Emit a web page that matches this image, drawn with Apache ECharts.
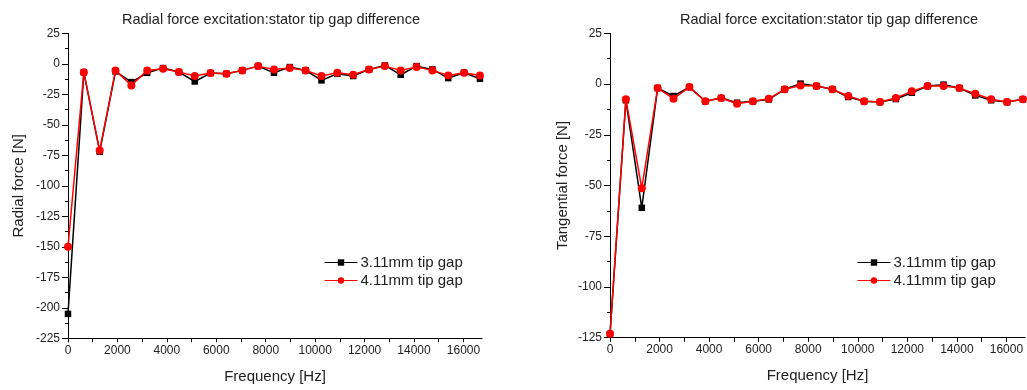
<!DOCTYPE html>
<html>
<head>
<meta charset="utf-8">
<script src="https://cdn.jsdelivr.net/npm/echarts@6/dist/echarts.min.js"></script>
<style>
html,body{margin:0;padding:0;background:#fff;}
#c{width:1027px;height:390px;}
</style>
</head>
<body>
<div id="c"></div>
<script>
// ---- data ----
var freqs = [0, 641, 1282, 1923, 2564, 3205, 3846, 4487, 5128, 5769, 6410, 7051, 7692, 8333, 8974, 9615, 10256, 10897, 11538, 12179, 12820, 13461, 14102, 14743, 15384, 16025, 16666];
var radial311 = [-205, -7, -72, -6.2, -15, -7.4, -3.5, -6.8, -14.5, -7.6, -8.2, -5.4, -1.9, -7.4, -2.7, -5.4, -13.6, -8.2, -10, -4.6, -1.3, -9, -1.9, -4.6, -11.7, -7.4, -12.3];
var radial411 = [-150, -7, -71, -5.4, -17.7, -5.4, -4.1, -6.8, -10, -7.6, -8.2, -5.4, -1.9, -4.6, -3.5, -5.4, -10, -7.4, -9, -4.6, -1.9, -5.4, -2.7, -5.4, -9.5, -7.4, -9.5];
var tang311 = [-123.5, -8, -61, -2, -5.9, -1.5, -8.5, -6.9, -9.2, -8.5, -7.6, -2.6, 0.2, -1, -2.6, -6.4, -8.5, -8.9, -7.4, -4.3, -1, -0.3, -2, -5.6, -8, -8.9, -7.5];
var tang411 = [-123, -7.5, -51.3, -2, -7.2, -1.5, -8.5, -6.9, -9.7, -8.5, -7.2, -2.6, -0.7, -1, -2.6, -5.9, -8.5, -8.9, -6.9, -3.6, -1, -1, -2, -4.8, -7.5, -8.9, -7.5];
var xLabelValues = [0, 2000, 4000, 6000, 8000, 10000, 12000, 14000, 16000];
var xTickValues = [0, 1000, 2000, 3000, 4000, 5000, 6000, 7000, 8000, 9000, 10000, 11000, 12000, 13000, 14000, 15000, 16000];
var seriesNames = ['3.11mm tip gap', '4.11mm tip gap'];
var titleText = 'Radial force excitation:stator tip gap difference';

function pairs(xs, ys) { return xs.map(function (x, i) { return [x, ys[i]]; }); }

var FONT = 'Liberation Sans, Arial, sans-serif';
var TXT = '#222';

function xAxis(gi) {
  return {
    type: 'value', gridIndex: gi, min: 0, max: 16750, interval: 1000,
    name: 'Frequency [Hz]', nameLocation: 'middle', nameGap: 31,
    nameTextStyle: { fontFamily: FONT, fontSize: 15, color: TXT },
    axisLine: { onZero: false, lineStyle: { color: '#000', width: 1 } },
    axisTick: { show: true, length: 4, customValues: xTickValues, lineStyle: { color: '#000' } },
    axisLabel: { customValues: xLabelValues, formatter: function (v) { return String(v); },
      fontFamily: FONT, fontSize: 12, color: TXT, margin: 6 },
    splitLine: { show: false }
  };
}
function yAxis(gi, min, name, gap) {
  return {
    type: 'value', gridIndex: gi, min: min, max: 25, interval: 25,
    name: name, nameLocation: 'middle', nameGap: gap, nameRotate: 90,
    nameTextStyle: { fontFamily: FONT, fontSize: 15, color: TXT },
    axisLine: { show: true, onZero: false, lineStyle: { color: '#000', width: 1 } },
    axisTick: { show: true, length: 6, lineStyle: { color: '#000' } },
    minorTick: { show: true, splitNumber: 2, length: 3, lineStyle: { color: '#000' } },
    axisLabel: { fontFamily: FONT, fontSize: 12, color: TXT, margin: 8 },
    splitLine: { show: false }
  };
}
function blackSeries(xi, data) {
  return { name: seriesNames[0], type: 'line', xAxisIndex: xi, yAxisIndex: xi, data: data,
    symbol: 'rect', symbolSize: 6.5, color: '#000', lineStyle: { color: '#000', width: 1.5 },
    itemStyle: { color: '#000' }, z: 2, animation: false };
}
function redSeries(xi, data) {
  return { name: seriesNames[1], type: 'line', xAxisIndex: xi, yAxisIndex: xi, data: data,
    symbol: 'circle', symbolSize: 8, color: '#ff0000', lineStyle: { color: '#ff0000', width: 1.5 },
    itemStyle: { color: '#ff0000' }, z: 3, animation: false };
}
function legend(left) {
  return { orient: 'vertical', left: left, top: 250, itemWidth: 33, itemHeight: 8, itemGap: 3,
    lineStyle: { width: 1 },
    data: seriesNames, textStyle: { fontFamily: FONT, fontSize: 15, color: TXT, padding: [0, 0, 0, -2] } };
}

var chart = echarts.init(document.getElementById('c'), null, { renderer: 'canvas' });
chart.setOption({
  backgroundColor: '#fff',
  animation: false,
  title: [
    { text: titleText, left: 266, top: 7, textAlign: 'center', textStyle: { fontFamily: FONT, fontSize: 14.5, fontWeight: 'normal', color: TXT } },
    { text: titleText, left: 824, top: 7, textAlign: 'center', textStyle: { fontFamily: FONT, fontSize: 14.5, fontWeight: 'normal', color: TXT } }
  ],
  legend: [legend(319), legend(852)],
  grid: [
    { left: 68, width: 414, top: 33.3, height: 305 },
    { left: 610, width: 415, top: 33.3, height: 304.4 }
  ],
  xAxis: [xAxis(0), xAxis(1)],
  yAxis: [yAxis(0, -225, 'Radial force [N]', 42), yAxis(1, -125, 'Tangential force [N]', 40)],
  series: [
    blackSeries(0, pairs(freqs, radial311)),
    redSeries(0, pairs(freqs, radial411)),
    blackSeries(1, pairs(freqs, tang311)),
    redSeries(1, pairs(freqs, tang411))
  ]
});
</script>
</body>
</html>
